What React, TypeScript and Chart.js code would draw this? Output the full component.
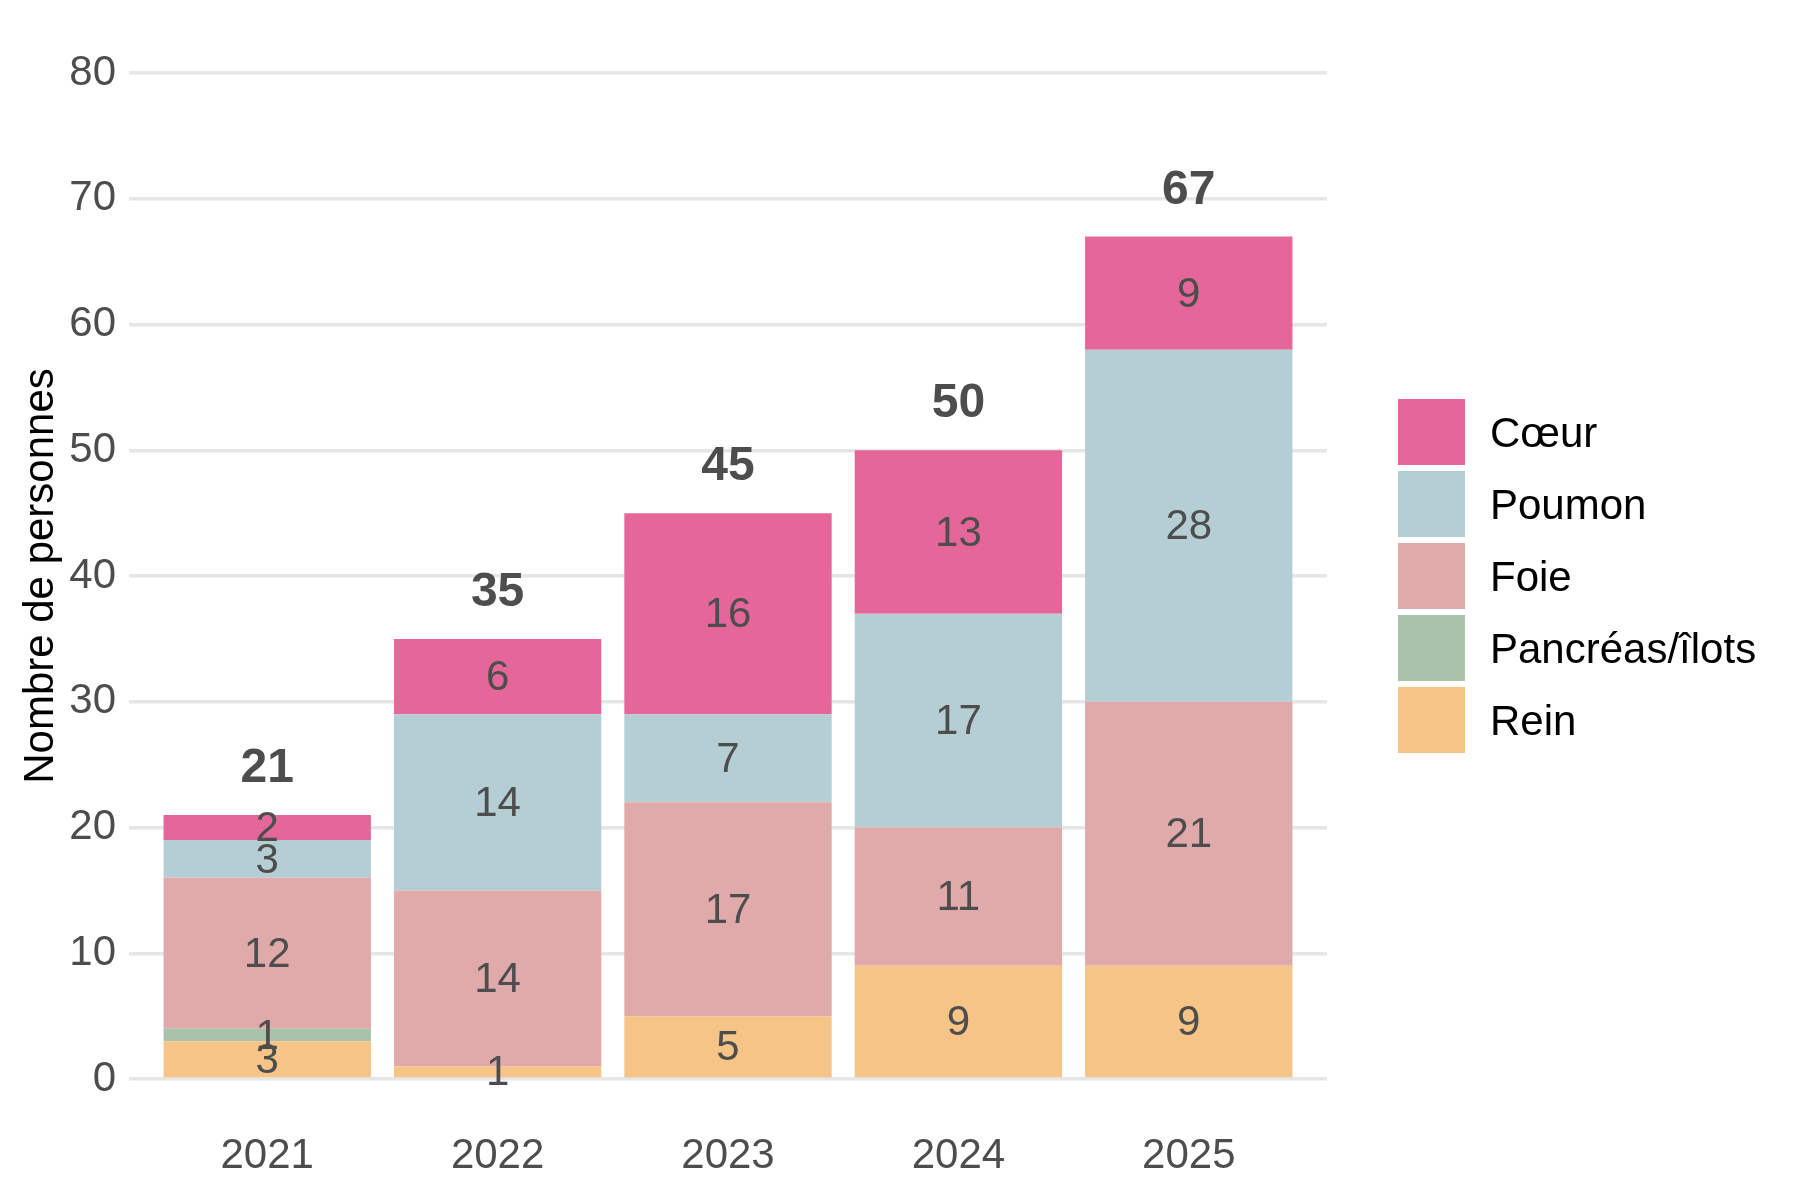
import React, { useEffect, useRef } from "react";
import { Chart, registerables } from "chart.js";

Chart.register(...registerables);

const years = ["2021", "2022", "2023", "2024", "2025"];
const rein = [3, 1, 5, 9, 9];
const pancreas = [1, 0, 0, 0, 0];
const foie = [12, 14, 17, 11, 21];
const poumon = [3, 14, 7, 17, 28];
const coeur = [2, 6, 16, 13, 9];
const seriesNames = ["Rein", "Pancréas/îlots", "Foie", "Poumon", "Cœur"];
const seriesValues = [rein, pancreas, foie, poumon, coeur];
const seriesColors = ["#F5C486", "#A8C2AA", "#E1AAAA", "#B4CED3", "#E5679A"];
const yTickValues = [0, 10, 20, 30, 40, 50, 60, 70, 80];
const yTitle = "Nombre de personnes";

const FONT = "'Liberation Sans', Arial, Helvetica, sans-serif";
const FS = 42;

const labelsPlugin = {
  id: "customLabels",
  afterDatasetsDraw(chart: any) {
    const ctx = chart.ctx as CanvasRenderingContext2D;
    ctx.save();
    ctx.textAlign = "center";
    ctx.textBaseline = "middle";
    // segment labels
    ctx.font = `${FS}px ${FONT}`;
    ctx.fillStyle = "#4d4d4d";
    chart.data.datasets.forEach((ds: any, i: number) => {
      const meta = chart.getDatasetMeta(i);
      meta.data.forEach((el: any, j: number) => {
        const v = ds.data[j].y;
        if (!v) return;
        const p = el.getProps(["x", "y", "base"], true);
        ctx.fillText(String(v), p.x, (p.y + p.base) / 2 + 2);
      });
    });
    // totals
    ctx.font = `bold 48px ${FONT}`;
    years.forEach((_, j) => {
      const total = seriesValues.reduce((s, arr) => s + arr[j], 0);
      const x = chart.scales.x.getPixelForValue(j);
      const y = chart.scales.y.getPixelForValue(total) - 46;
      ctx.fillText(String(total), x, y);
    });
    // legend (reversed order)
    const boxW = 67;
    const boxH = 66;
    const gap = 6;
    const n = seriesNames.length;
    const totalH = n * boxH + (n - 1) * gap;
    const ca = chart.chartArea;
    const top0 = (ca.top + ca.bottom) / 2 - totalH / 2;
    const boxX = 1398;
    const textX = 1490;
    ctx.font = `${FS}px ${FONT}`;
    ctx.textAlign = "left";
    for (let k = 0; k < n; k++) {
      const idx = n - 1 - k;
      const y = top0 + k * (boxH + gap);
      ctx.fillStyle = seriesColors[idx];
      ctx.fillRect(boxX, y, boxW, boxH);
      ctx.fillStyle = "#000000";
      ctx.fillText(seriesNames[idx], textX, y + boxH / 2 + 3);
    }
    ctx.restore();
  },
};

export default function App() {
  const canvasRef = useRef<HTMLCanvasElement | null>(null);

  useEffect(() => {
    document.body.style.margin = "0";
    document.body.style.background = "#ffffff";
    const canvas = canvasRef.current;
    if (!canvas) return;
    Chart.defaults.font.family = FONT;

    const chart = new Chart(canvas, {
      type: "bar",
      data: {
        datasets: seriesNames.map((name, i) => ({
          label: name,
          data: seriesValues[i].map((v, j) => ({ x: j, y: v })),
          backgroundColor: seriesColors[i],
          borderWidth: 0,
          barPercentage: 0.9,
          categoryPercentage: 1,
        })),
      },
      options: {
        responsive: false,
        animation: false,
        devicePixelRatio: 1,
        layout: { padding: { top: 73, right: 473, bottom: 0, left: 0 } },
        plugins: {
          legend: { display: false },
          tooltip: { enabled: false },
        },
        scales: {
          x: {
            type: "linear",
            stacked: true,
            offset: false,
            min: -0.6,
            max: 4.6,
            afterBuildTicks: (scale: any) => {
              scale.ticks = years.map((_, i) => ({ value: i }));
            },
            afterFit: (scale: any) => {
              scale.height = 121;
            },
            grid: { display: false, drawTicks: false, tickLength: 0, offset: false },
            border: { display: false },
            ticks: {
              padding: 52,
              color: "#4d4d4d",
              font: { size: FS, family: FONT, lineHeight: 1.2 },
              callback: (v: any) => years[Number(v)] ?? "",
              maxRotation: 0,
              autoSkip: false,
            },
          },
          y: {
            type: "linear",
            stacked: true,
            min: 0,
            max: 80,
            afterBuildTicks: (scale: any) => {
              scale.ticks = yTickValues.map((v) => ({ value: v }));
            },
            afterFit: (scale: any) => {
              scale.width = 129;
            },
            grid: {
              color: "#e6e6e6",
              lineWidth: 3.5,
              drawTicks: false,
              tickLength: 0,
            },
            border: { display: false },
            ticks: {
              padding: 13,
              color: "#4d4d4d",
              font: { size: FS, family: FONT },
            },
            title: {
              display: true,
              text: yTitle,
              color: "#000000",
              font: { size: FS, family: FONT, lineHeight: 1.2 },
              padding: { top: 16, bottom: 0 },
            },
          },
        },
      },
      plugins: [labelsPlugin],
    });
    return () => chart.destroy();
  }, []);

  return (
    <div style={{ position: "absolute", left: 0, top: 0, width: 1800, height: 1200, background: "#fff" }}>
      <canvas ref={canvasRef} width={1800} height={1200} style={{ width: 1800, height: 1200, display: "block" }} />
    </div>
  );
}
